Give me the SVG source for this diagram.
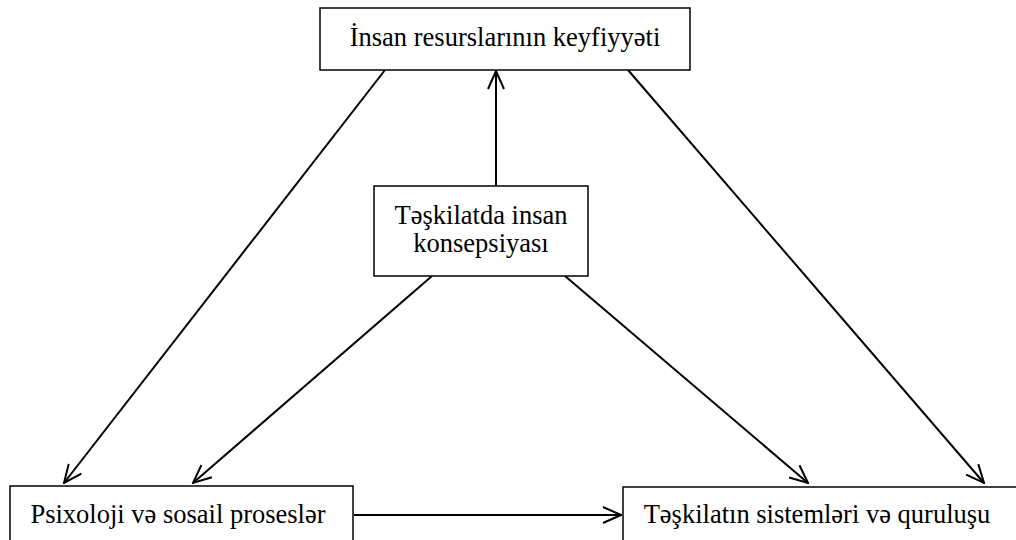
<svg xmlns="http://www.w3.org/2000/svg" width="1016" height="540" viewBox="0 0 1016 540">
<style>
.box{fill:#fff;stroke:#000;stroke-width:1.5}
text{font-family:'Liberation Serif','Times New Roman',serif;font-size:26.5px;fill:#000}
.c{fill:none;stroke:#000;stroke-width:2;marker-end:url(#ah)}
</style>
<defs>
<marker id="ah" viewBox="0 0 20 20" refX="19" refY="10" markerWidth="20" markerHeight="20" markerUnits="userSpaceOnUse" orient="auto">
<path d="M1,2 L19,10 L1,18" fill="none" stroke="#000" stroke-width="2"/>
</marker>
</defs>
<rect width="1016" height="540" fill="#fff"/>
<g id="connectors">
<line class="c" x1="385" y1="70" x2="64" y2="483"/>
<line class="c" x1="628" y1="70" x2="984" y2="483"/>
<line class="c" x1="496" y1="186" x2="496" y2="71"/>
<line class="c" x1="432" y1="276" x2="193" y2="483"/>
<line class="c" x1="565" y1="276" x2="808" y2="483"/>
<line class="c" x1="354" y1="515" x2="621" y2="515"/>
</g>
<g id="top">
<rect class="box" x="320" y="8" width="370" height="62"/>
<text font-family="Liberation Serif, serif" x="505" y="46" text-anchor="middle">İnsan resurslarının keyfiyyəti</text>
</g>
<g id="center">
<rect class="box" x="374" y="186" width="214" height="90"/>
<text font-family="Liberation Serif, serif" x="481" y="224" text-anchor="middle">Təşkilatda insan</text>
<text font-family="Liberation Serif, serif" x="481" y="252" text-anchor="middle">konsepsiyası</text>
</g>
<g id="left">
<rect class="box" x="10" y="486" width="343" height="60"/>
<text font-family="Liberation Serif, serif" x="178" y="523" text-anchor="middle">Psixoloji və sosail proseslər</text>
</g>
<g id="right">
<rect class="box" x="623" y="487" width="400" height="60"/>
<text font-family="Liberation Serif, serif" x="817" y="523" text-anchor="middle">Təşkilatın sistemləri və quruluşu</text>
</g>
</svg>
